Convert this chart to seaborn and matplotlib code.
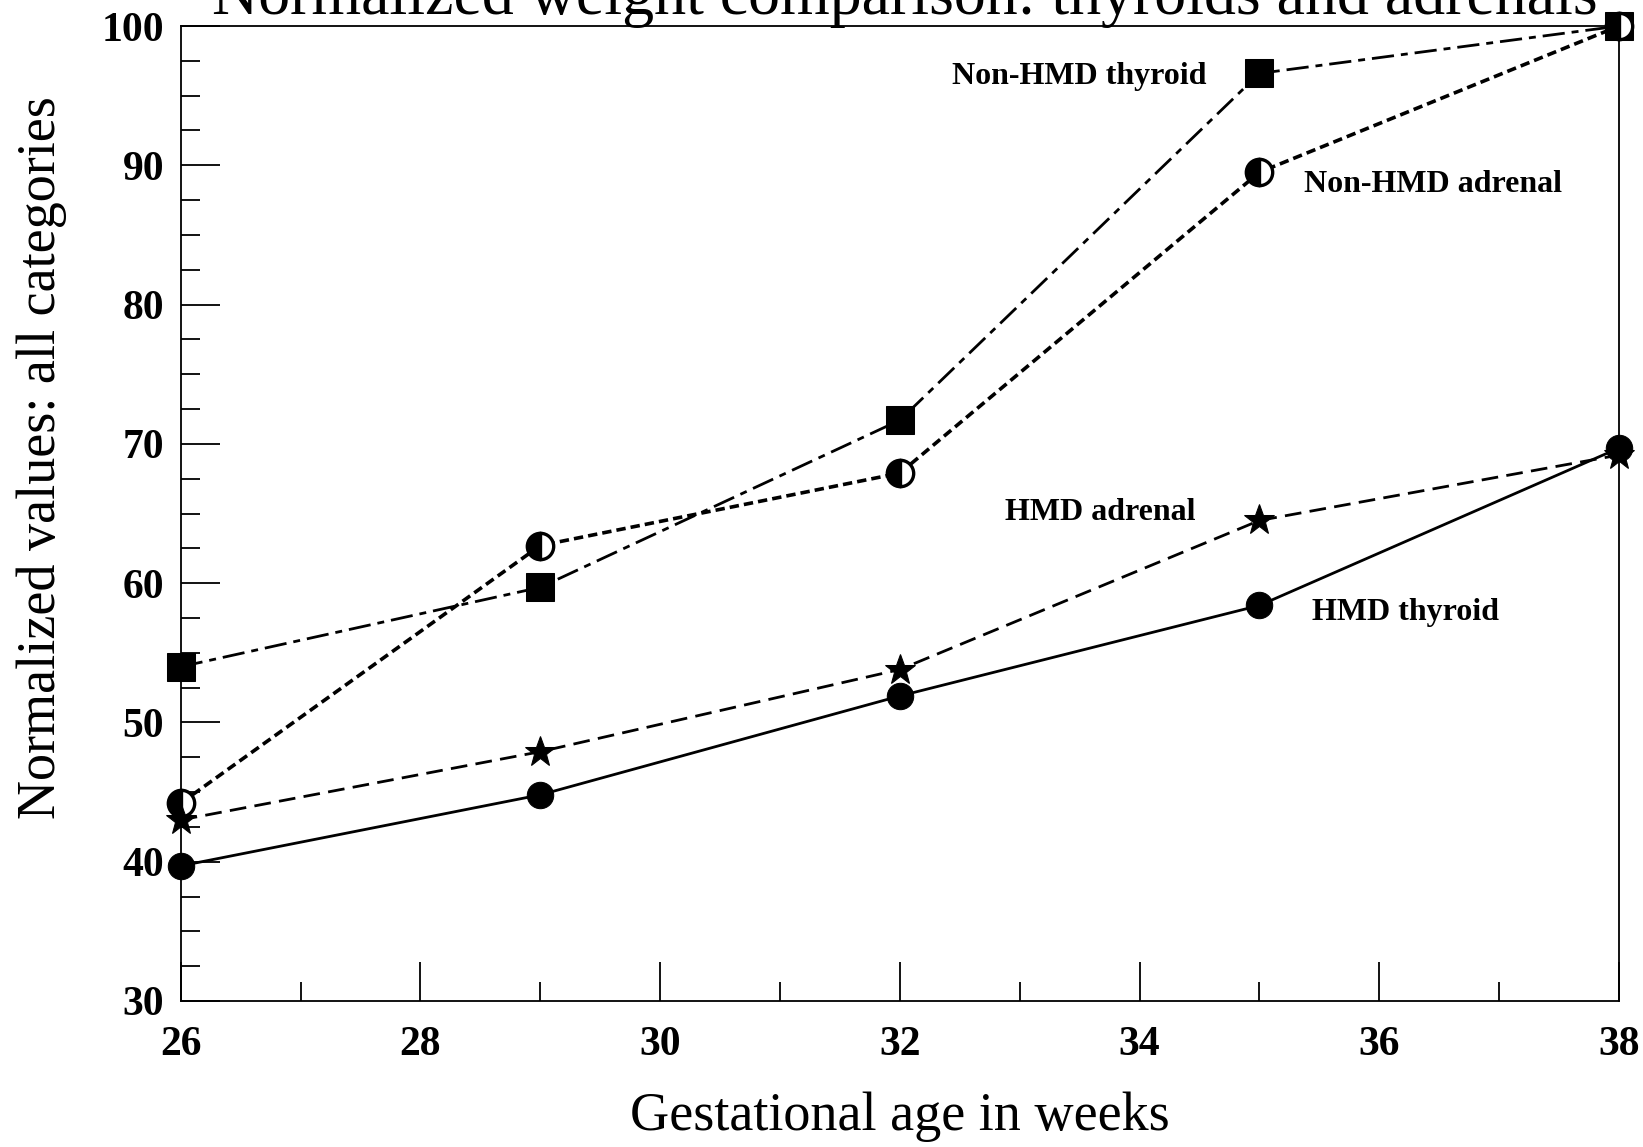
import numpy as np
import pandas as pd
import matplotlib
matplotlib.use("Agg")
import matplotlib.pyplot as plt
from matplotlib.ticker import MultipleLocator
import seaborn as sns

sns.set_style("white")
plt.rcParams['font.family'] = ['Liberation Serif', 'DejaVu Serif']
plt.rcParams.update({"text.color": "black", "axes.labelcolor": "black",
                     "xtick.color": "black", "ytick.color": "black"})

# data
weeks = [26, 29, 32, 35, 38]
nonhmd_thyroid = [54.0, 59.7, 71.7, 96.6, 100.0]
nonhmd_adrenal = [44.2, 62.7, 67.9, 89.5, 100.0]
hmd_adrenal = [43.0, 47.9, 53.8, 64.5, 69.2]
hmd_thyroid = [39.7, 44.8, 51.9, 58.4, 69.7]

series_names = ["Non-HMD thyroid", "Non-HMD adrenal", "HMD adrenal", "HMD thyroid"]
label_x = [33.5, 36.45, 33.67, 36.22]
label_y = [96.4, 88.6, 65.1, 57.9]

df = pd.DataFrame({
    "week": weeks * 4,
    "value": nonhmd_thyroid + nonhmd_adrenal + hmd_adrenal + hmd_thyroid,
    "series": np.repeat(series_names, len(weeks)),
})

fig = plt.figure(figsize=(16.43, 11.47), dpi=100)
ax = fig.add_axes([0.110, 0.1273, 0.8754, 0.85])

styles = {
    "Non-HMD thyroid": dict(marker="s", markersize=20, linestyle=(0, (8, 2.5, 2.5, 2.5)), linewidth=2.0,
                            markerfacecolor="black"),
    "Non-HMD adrenal": dict(marker="o", markersize=19, linestyle=(0, (2.6, 1.4)), linewidth=2.6,
                            fillstyle="left", markerfacecolor="black", markerfacecoloralt="white",
                            markeredgewidth=2.4),
    "HMD adrenal": dict(marker="*", markersize=23, linestyle=(0, (6, 3)), linewidth=2.0,
                        markerfacecolor="black"),
    "HMD thyroid": dict(marker="o", markersize=19, linestyle="-", linewidth=2.0,
                        markerfacecolor="black"),
}

for name in series_names:
    sub = df[df["series"] == name]
    sns.lineplot(data=sub, x="week", y="value", ax=ax, color="black",
                 markeredgecolor="black", clip_on=False, zorder=3, **styles[name])

for name, tx, ty in zip(series_names, label_x, label_y):
    ax.text(tx, ty, name, fontsize=23, fontweight="bold", ha="center", va="center")

ax.set_xlim(26, 38)
ax.set_ylim(30, 100)
ax.xaxis.set_major_locator(MultipleLocator(2))
ax.xaxis.set_minor_locator(MultipleLocator(1))
ax.yaxis.set_major_locator(MultipleLocator(10))
ax.yaxis.set_minor_locator(MultipleLocator(2.5))
ax.tick_params(axis="both", which="both", direction="in", top=False, right=False,
               bottom=True, left=True, width=1.3, color="black")
ax.tick_params(axis="both", which="major", length=28, labelsize=30)
ax.tick_params(axis="both", which="minor", length=14)
ax.tick_params(axis="x", which="major", pad=18)
ax.tick_params(axis="y", which="major", pad=12)
for lbl in ax.get_xticklabels() + ax.get_yticklabels():
    lbl.set_fontweight("bold")

for sp in ax.spines.values():
    sp.set_visible(True)
    sp.set_color("black")
    sp.set_linewidth(1.3)

ax.set_xlabel("Gestational age in weeks", fontsize=39, labelpad=20)
ax.set_ylabel("Normalized values: all categories", fontsize=39)
ax.yaxis.set_label_coords(-0.079, 0.557)
ax.grid(False)

fig.text(0.551, 1 - 14 / 1147, "Normalized weight comparison: thyroids and adrenals",
         fontsize=46, ha="center", va="baseline")

fig.savefig("out.png", dpi=100)
